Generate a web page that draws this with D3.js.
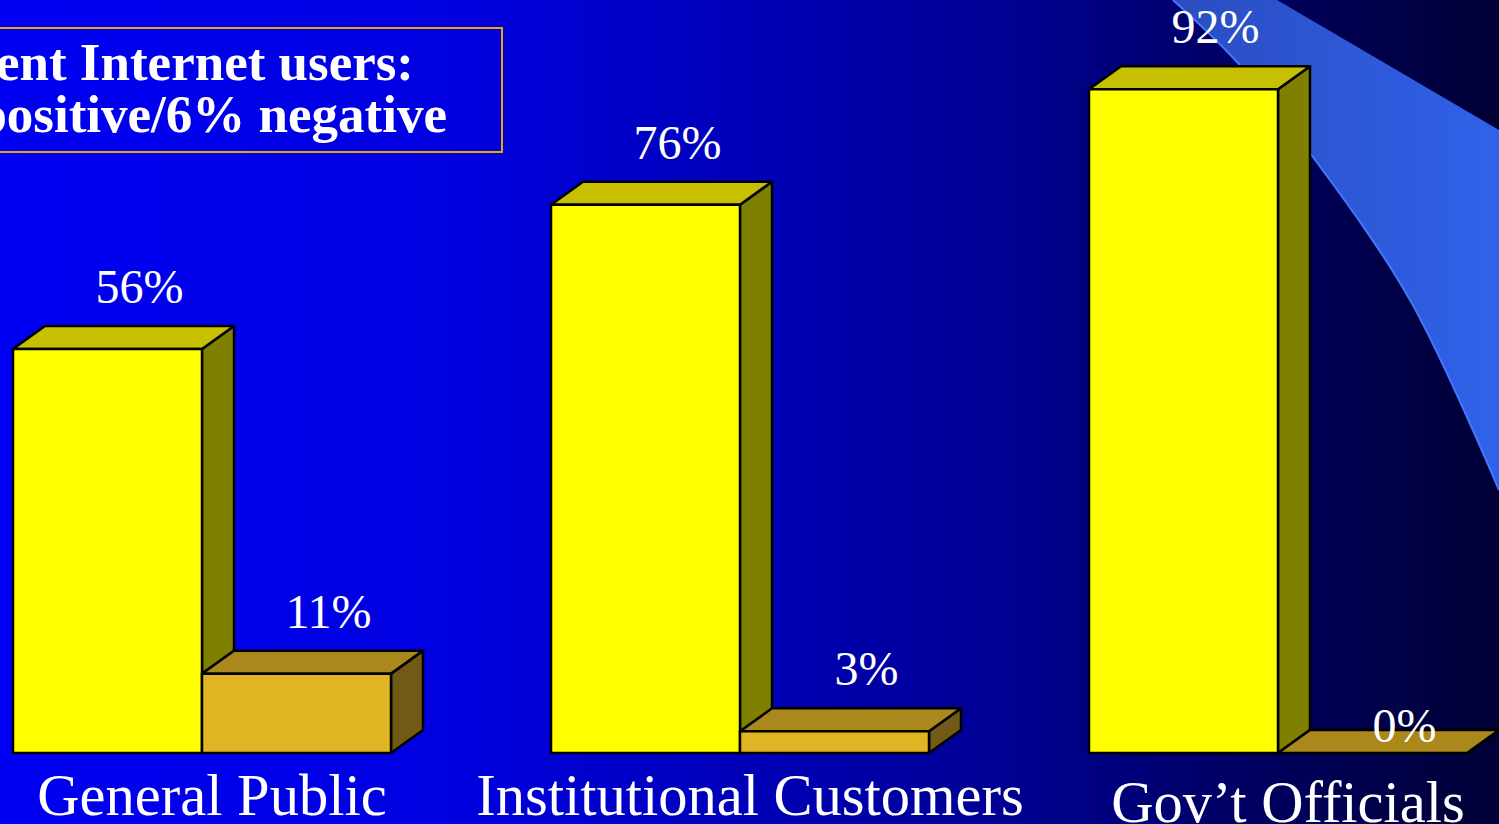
<!DOCTYPE html>
<html>
<head>
<meta charset="utf-8">
<script src="https://cdn.jsdelivr.net/npm/d3@7"></script>
<style>
  html, body { margin: 0; padding: 0; overflow: hidden; background: #000035; }
  svg { display: block; }
</style>
</head>
<body>
<svg id="chart"></svg>
<script>
// values
const categories = ["General Public", "Institutional Customers", "Gov\u2019t Officials"];
const positive = [56, 76, 92];
const negative = [11, 3, 0];
const seriesNames = ["positive", "negative"];
const titleLines = ["ent Internet users:", "positive/6% negative"];

const W = 1499, H = 824;
const depth = {x: 32, y: -23};
const colors = {
    positive: {front: "#ffff00", top: "#c6c000", side: "#808000"},
    negative: {front: "#e0b422", top: "#aa881c", side: "#705a16"}
};

const table = categories.map((c, i) => ({
    category: c,
    values: [
        {key: "positive", value: positive[i]},
        {key: "negative", value: negative[i]}
    ]
}));

const svg = d3.select("#chart").attr("width", W).attr("height", H);
const defs = svg.append("defs");

const bg = defs.append("linearGradient").attr("id", "bg")
    .attr("x1", 0).attr("x2", 1).attr("y1", 0).attr("y2", 0);
[[0, "#0000f2"], [0.3, "#0000e0"], [0.5, "#0000b8"], [0.68, "#000090"], [0.82, "#000065"], [1, "#000035"]]
    .forEach(s => bg.append("stop").attr("offset", s[0]).attr("stop-color", s[1]));

const sw = defs.append("linearGradient").attr("id", "swoosh")
    .attr("x1", 0).attr("x2", 1).attr("y1", 0).attr("y2", 0);
sw.append("stop").attr("offset", 0).attr("stop-color", "#2a4cc0");
sw.append("stop").attr("offset", 1).attr("stop-color", "#3062ea");

svg.append("rect").attr("width", W).attr("height", H).attr("fill", "url(#bg)");

// decorative swoosh at the top right
const edge = [[1173, 0], [1237, 62], [1310, 153], [1410, 300], [1499, 490]];
const edgeLine = d3.line().curve(d3.curveCatmullRom);
const edgePath = edgeLine(edge);
const backPath = edgeLine(edge.slice().reverse());
svg.append("path")
    .attr("d", "M1277,0 L1499,130 L1499,490 " + backPath.replace(/^M/, "L") + " Z")
    .attr("fill", "url(#swoosh)");
svg.append("path")
    .attr("d", edgePath)
    .attr("fill", "none")
    .attr("stroke", "#4078ff")
    .attr("stroke-width", 2);

// title box (cut off on the left like the slide)
svg.append("rect")
    .attr("x", -10).attr("y", 28).attr("width", 512).attr("height", 124)
    .attr("fill", "none").attr("stroke", "#e8a800").attr("stroke-width", 2);
svg.append("text")
    .attr("font-family", "'Liberation Serif', 'Times New Roman', serif")
    .attr("font-weight", "bold").attr("font-size", "53px").attr("fill", "#ffffff")
    .attr("text-anchor", "end")
    .selectAll("tspan").data(titleLines).join("tspan")
    .attr("x", (d, i) => i === 0 ? 414 : 447)
    .attr("y", (d, i) => i === 0 ? 80 : 132)
    .text(d => d);

// scales
const y = d3.scaleLinear().domain([0, 100]).range([753, 31.5]);
const x0 = d3.scaleBand().domain(categories).range([13, 1467])
    .paddingInner(160 / 538).paddingOuter(0);
const x1 = d3.scaleBand().domain(seriesNames).range([0, x0.bandwidth()]);

const chart = svg.append("g");

const groups = chart.selectAll("g.group").data(table).join("g")
    .attr("class", "group")
    .attr("transform", d => `translate(${x0(d.category)},0)`);

const bars = groups.selectAll("g.bar").data(d => d.values).join("g").attr("class", "bar");

const pts = a => a.map(p => p.join(",")).join(" ");

bars.each(function(d) {
    const g = d3.select(this);
    const xa = x1(d.key), xb = xa + x1.bandwidth();
    const yt = y(d.value), yb = y(0);
    const c = colors[d.key];
    const st = {stroke: "#000", "stroke-width": 2.5, "stroke-linejoin": "round"};
    const side = g.append("polygon")
        .attr("points", pts([[xb, yt], [xb + depth.x, yt + depth.y], [xb + depth.x, yb + depth.y], [xb, yb]]))
        .attr("fill", c.side);
    const top = g.append("polygon")
        .attr("points", pts([[xa, yt], [xa + depth.x, yt + depth.y], [xb + depth.x, yt + depth.y], [xb, yt]]))
        .attr("fill", c.top);
    const front = g.append("rect")
        .attr("x", xa).attr("y", yt).attr("width", xb - xa).attr("height", yb - yt)
        .attr("fill", c.front);
    [side, top, front].forEach(s => Object.entries(st).forEach(([k, v]) => s.attr(k, v)));
});

// value labels
bars.append("text")
    .attr("x", d => x1(d.key) + x1.bandwidth() / 2 + depth.x)
    .attr("y", d => d.value === 0 ? y(0) - 11 : y(d.value) + depth.y - 23)
    .attr("text-anchor", "middle")
    .attr("font-family", "'Liberation Serif', 'Times New Roman', serif")
    .attr("font-size", "48px")
    .attr("fill", "#ffffff")
    .text(d => d.value + "%");

// category labels
chart.selectAll("text.cat").data(categories).join("text")
    .attr("class", "cat")
    .attr("x", d => x0(d) + x0.bandwidth() / 2 + 10)
    .attr("y", (d, i) => i === 2 ? 822 : 815)
    .attr("text-anchor", "middle")
    .attr("font-family", "'Liberation Serif', 'Times New Roman', serif")
    .attr("font-size", "58.5px")
    .attr("fill", "#ffffff")
    .text(d => d);
</script>
</body>
</html>
